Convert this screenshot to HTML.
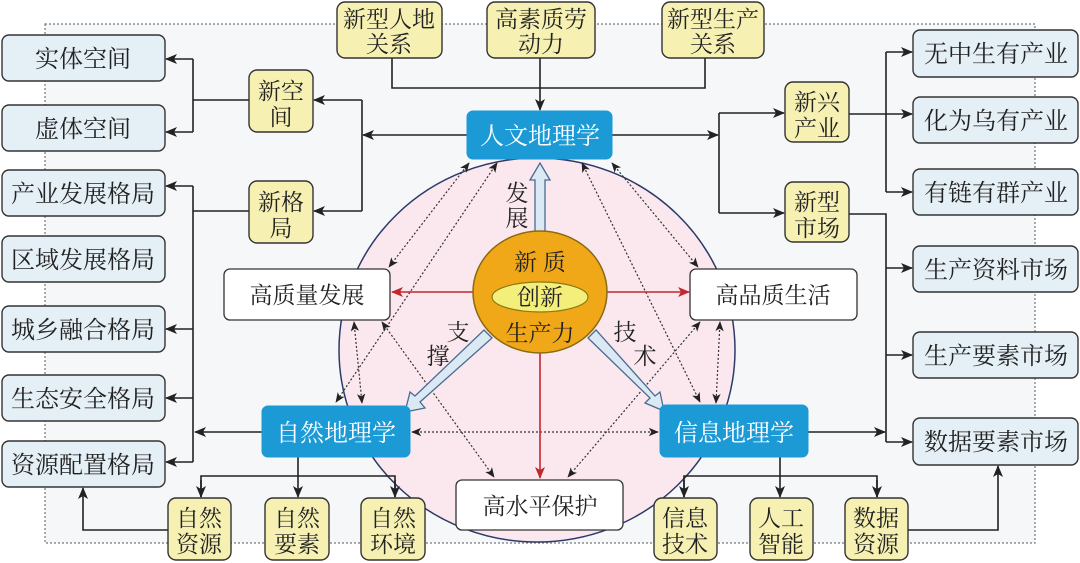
<!DOCTYPE html>
<html><head><meta charset="utf-8"><style>
body{margin:0;background:#fff;}
svg{display:block;font-family:"Liberation Serif","Noto Serif CJK SC",serif;}
</style></head><body>
<svg width="1080" height="563" viewBox="0 0 1080 563" xmlns="http://www.w3.org/2000/svg">
<defs>
<marker id="a" viewBox="0 0 12 10" refX="11" refY="5" markerWidth="12" markerHeight="10" markerUnits="userSpaceOnUse" orient="auto-start-reverse"><path d="M0,0 L12,5 L0,10 L3,5 z" fill="#222"/></marker>
<marker id="s" viewBox="0 0 12 10" refX="11" refY="5" markerWidth="10" markerHeight="9" markerUnits="userSpaceOnUse" orient="auto-start-reverse"><path d="M0,0 L12,5 L0,10 L3,5 z" fill="#222"/></marker>
<marker id="r" viewBox="0 0 12 10" refX="11" refY="5" markerWidth="12" markerHeight="10" markerUnits="userSpaceOnUse" orient="auto"><path d="M0,0 L12,5 L0,10 L3,5 z" fill="#c0282d"/></marker>
</defs>
<rect x="45" y="24" width="990" height="519" fill="#f6f7f9" stroke="#777" stroke-width="1.2" stroke-dasharray="2,2"/>
<ellipse cx="537" cy="350" rx="198" ry="192" fill="#fbe8ee" stroke="#2d3a6a" stroke-width="1.5"/>

<g stroke="#222" stroke-width="1.6" fill="none">
<polyline points="392,57 392,88 705,88 705,57"/>
<line x1="540" y1="57" x2="540" y2="110" marker-end="url(#a)"/>
<line x1="467" y1="135" x2="363" y2="135" marker-end="url(#a)"/>
<polyline points="362,100 362,211"/>
<line x1="362" y1="100" x2="314" y2="100" marker-end="url(#a)"/>
<line x1="362" y1="211" x2="314" y2="211" marker-end="url(#a)"/>
<line x1="249" y1="100" x2="193" y2="100"/>
<line x1="193" y1="59" x2="193" y2="132"/>
<line x1="193" y1="59" x2="166" y2="59" marker-end="url(#a)"/>
<line x1="193" y1="132" x2="166" y2="132" marker-end="url(#a)"/>
<line x1="249" y1="211" x2="193" y2="211"/>
<line x1="193" y1="186" x2="193" y2="462"/>
<line x1="193" y1="186" x2="166" y2="186" marker-end="url(#a)"/>
<line x1="193" y1="329" x2="166" y2="329" marker-end="url(#a)"/>
<line x1="193" y1="398" x2="166" y2="398" marker-end="url(#a)"/>
<line x1="193" y1="462" x2="166" y2="462" marker-end="url(#a)"/>
<line x1="262" y1="432" x2="195" y2="432" marker-end="url(#a)"/>
<line x1="612" y1="135" x2="718" y2="135" marker-end="url(#a)"/>
<line x1="719" y1="113" x2="719" y2="213"/>
<line x1="719" y1="113" x2="784" y2="113" marker-end="url(#a)"/>
<line x1="719" y1="213" x2="784" y2="213" marker-end="url(#a)"/>
<line x1="849" y1="114" x2="912" y2="114" marker-end="url(#a)"/>
<line x1="886" y1="52" x2="886" y2="192"/>
<line x1="886" y1="52" x2="912" y2="52" marker-end="url(#a)"/>
<line x1="886" y1="192" x2="912" y2="192" marker-end="url(#a)"/>
<polyline points="849,214 886,214 886,442"/>
<line x1="886" y1="268" x2="912" y2="268" marker-end="url(#a)"/>
<line x1="886" y1="355" x2="912" y2="355" marker-end="url(#a)"/>
<line x1="886" y1="442" x2="912" y2="442" marker-end="url(#a)"/>
<line x1="808" y1="432" x2="885" y2="432" marker-end="url(#a)"/>
<line x1="298" y1="457" x2="298" y2="497" marker-end="url(#a)"/>
<polyline points="201,497 201,476 395,476 395,497"/>
<line x1="201" y1="480" x2="201" y2="497" marker-end="url(#a)"/>
<line x1="395" y1="480" x2="395" y2="497" marker-end="url(#a)"/>
<polyline points="168,530 83,530 83,488" marker-end="url(#a)"/>
<line x1="780" y1="457" x2="780" y2="497" marker-end="url(#a)"/>
<polyline points="684,497 684,476 877,476 877,497"/>
<line x1="684" y1="480" x2="684" y2="497" marker-end="url(#a)"/>
<line x1="877" y1="480" x2="877" y2="497" marker-end="url(#a)"/>
<polyline points="908,530 998,530 998,466" marker-end="url(#a)"/>
</g>

<g stroke="#333" stroke-width="1.2" stroke-dasharray="2,2" fill="none">
<line x1="469" y1="163" x2="389" y2="267" marker-start="url(#s)" marker-end="url(#s)"/>
<line x1="497" y1="163" x2="336" y2="402" marker-start="url(#s)" marker-end="url(#s)"/>
<line x1="582" y1="163" x2="700" y2="402" marker-start="url(#s)" marker-end="url(#s)"/>
<line x1="612" y1="163" x2="698" y2="267" marker-start="url(#s)" marker-end="url(#s)"/>
<line x1="354" y1="322" x2="362" y2="403" marker-start="url(#s)" marker-end="url(#s)"/>
<line x1="382" y1="322" x2="494" y2="477" marker-start="url(#s)" marker-end="url(#s)"/>
<line x1="720" y1="322" x2="716" y2="403" marker-start="url(#s)" marker-end="url(#s)"/>
<line x1="700" y1="322" x2="568" y2="477" marker-start="url(#s)" marker-end="url(#s)"/>
<line x1="412" y1="432" x2="658" y2="432" marker-start="url(#s)" marker-end="url(#s)"/>
</g>

<g stroke="#c0282d" stroke-width="1.6">
<line x1="474" y1="292" x2="392" y2="292" marker-end="url(#r)"/>
<line x1="607" y1="292" x2="689" y2="292" marker-end="url(#r)"/>
<line x1="540" y1="353" x2="540" y2="478" marker-end="url(#r)"/>
</g>

<g fill="#dbe9f5" stroke="#4a6a90" stroke-width="1.3">
<polygon points="535,232 535,180 530,180 540,163 550,180 545,180 545,232"/>
<polygon points="484,330 492,338 420,402 425,408 405,412 410,392 415,396"/>
<polygon points="596,330 588,338 650,398 645,403 664,411 660,392 655,396"/>
</g>

<ellipse cx="540" cy="292" rx="67" ry="61" fill="#f0a818" stroke="#8a6a10" stroke-width="1.5"/>
<ellipse cx="540" cy="297" rx="48" ry="15" fill="#f3ef7a" stroke="#8a7a10" stroke-width="1.2"/>
<g font-size="23" fill="#222" text-anchor="middle">
<text x="540" y="270">新 质</text>
<text x="540" y="305">创新</text>
<text x="540" y="341">生产力</text>
<text x="517" y="201">发</text><text x="517" y="226">展</text>
<text x="458" y="340">支</text><text x="438" y="364">撑</text>
<text x="625" y="340">技</text><text x="645" y="364">术</text>
</g>

<g fill="#1b9ad6" stroke="#1b9ad6">
<rect x="467" y="111" width="145" height="48" rx="6"/>
<rect x="262" y="406" width="148" height="51" rx="6"/>
<rect x="660" y="405" width="148" height="52" rx="6"/>
</g>
<g font-size="24" fill="#fff" text-anchor="middle">
<text x="540" y="144">人文地理学</text>
<text x="336" y="441">自然地理学</text>
<text x="734" y="441">信息地理学</text>
</g>

<g fill="#fff" stroke="#333" stroke-width="1.3">
<rect x="224" y="269" width="166" height="51" rx="6"/>
<rect x="690" y="269" width="167" height="51" rx="6"/>
<rect x="456" y="480" width="167" height="50" rx="6"/>
</g>
<g font-size="23" fill="#222" text-anchor="middle">
<text x="307" y="303">高质量发展</text>
<text x="773" y="303">高品质生活</text>
<text x="540" y="514">高水平保护</text>
</g>

<g fill="#e5eff6" stroke="#333" stroke-width="1.4">
<rect x="2" y="35" width="163" height="46" rx="7"/>
<rect x="2" y="105" width="163" height="46" rx="7"/>
<rect x="2" y="170" width="163" height="46" rx="7"/>
<rect x="2" y="236" width="163" height="46" rx="7"/>
<rect x="2" y="306" width="163" height="46" rx="7"/>
<rect x="2" y="375" width="163" height="46" rx="7"/>
<rect x="2" y="441" width="163" height="46" rx="7"/>
<rect x="913" y="30" width="165" height="47" rx="7"/>
<rect x="913" y="97" width="165" height="46" rx="7"/>
<rect x="913" y="169" width="165" height="46" rx="7"/>
<rect x="913" y="246" width="165" height="46" rx="7"/>
<rect x="913" y="332" width="165" height="46" rx="7"/>
<rect x="913" y="418" width="165" height="47" rx="7"/>
</g>
<g font-size="24" fill="#222" text-anchor="middle">
<text x="83" y="67">实体空间</text>
<text x="83" y="137">虚体空间</text>
<text x="83" y="202">产业发展格局</text>
<text x="83" y="268">区域发展格局</text>
<text x="83" y="338">城乡融合格局</text>
<text x="83" y="407">生态安全格局</text>
<text x="83" y="473">资源配置格局</text>
<text x="996" y="62">无中生有产业</text>
<text x="996" y="129">化为乌有产业</text>
<text x="996" y="201">有链有群产业</text>
<text x="996" y="278">生产资料市场</text>
<text x="996" y="364">生产要素市场</text>
<text x="996" y="450">数据要素市场</text>
</g>

<g fill="#f6f1b3" stroke="#333" stroke-width="1.4">
<rect x="337" y="2" width="105" height="56" rx="8"/>
<rect x="487" y="2" width="108" height="56" rx="8"/>
<rect x="662" y="2" width="102" height="56" rx="8"/>
<rect x="249" y="70" width="64" height="62" rx="8"/>
<rect x="249" y="181" width="64" height="62" rx="8"/>
<rect x="785" y="82" width="64" height="60" rx="8"/>
<rect x="785" y="182" width="64" height="60" rx="8"/>
<rect x="168" y="498" width="63" height="62" rx="8"/>
<rect x="265" y="498" width="64" height="62" rx="8"/>
<rect x="361" y="498" width="64" height="62" rx="8"/>
<rect x="654" y="498" width="63" height="62" rx="8"/>
<rect x="750" y="498" width="63" height="62" rx="8"/>
<rect x="845" y="498" width="63" height="62" rx="8"/>
</g>
<g font-size="23" fill="#222" text-anchor="middle">
<text x="389" y="27">新型人地</text><text x="389" y="52">关系</text>
<text x="541" y="27">高素质劳</text><text x="541" y="52">动力</text>
<text x="713" y="27">新型生产</text><text x="713" y="52">关系</text>
<text x="281" y="99">新空</text><text x="281" y="125">间</text>
<text x="281" y="210">新格</text><text x="281" y="236">局</text>
<text x="817" y="110">新兴</text><text x="817" y="136">产业</text>
<text x="817" y="210">新型</text><text x="817" y="236">市场</text>
<text x="199" y="526">自然</text><text x="199" y="552">资源</text>
<text x="297" y="526">自然</text><text x="297" y="552">要素</text>
<text x="393" y="526">自然</text><text x="393" y="552">环境</text>
<text x="685" y="526">信息</text><text x="685" y="552">技术</text>
<text x="781" y="526">人工</text><text x="781" y="552">智能</text>
<text x="876" y="526">数据</text><text x="876" y="552">资源</text>
</g>
</svg>
</body></html>
